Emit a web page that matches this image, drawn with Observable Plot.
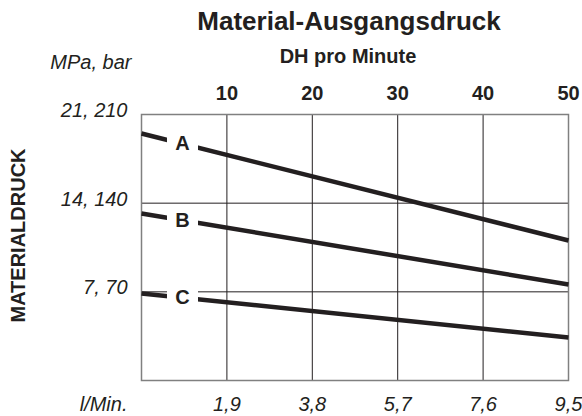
<!DOCTYPE html>
<html>
<head>
<meta charset="utf-8">
<script src="https://cdn.jsdelivr.net/npm/d3@7"></script>
<script src="https://cdn.jsdelivr.net/npm/@observablehq/plot@0.6"></script>
<style>
  html, body { margin: 0; padding: 0; background: white; }
</style>
</head>
<body>
<div id="chart"></div>
<script>
// ---- data ----
const seriesNames = ["A", "B", "C"];
const flowDH = [0, 50];                 // DH pro Minute (x)
const pressureA = [19.5, 11.05];        // MPa
const pressureB = [13.18, 7.58];
const pressureC = [6.87, 3.39];
const labelFlow = 4.8;                  // x position of the series label

const topTicks = [10, 20, 30, 40, 50];
const bottomTickLabels = ["1,9", "3,8", "5,7", "7,6", "9,5"];
const yTicks = [7, 14, 21];
const yTickLabels = ["7, 70", "14, 140", "21, 210"];
const gridX = [10, 20, 30, 40];
const gridY = [7, 14];

const title = "Material-Ausgangsdruck";
const subtitle = "DH pro Minute";
const yUnit = "MPa, bar";
const xUnit = "l/Min.";
const yTitle = "MATERIALDRUCK";

// ---- build tables ----
const pressures = [pressureA, pressureB, pressureC];
const lineData = seriesNames.flatMap((s, i) =>
  flowDH.map((x, j) => ({ series: s, x, y: pressures[i][j] })));
const labelData = seriesNames.map((s, i) => {
  const p = pressures[i];
  const t = (labelFlow - flowDH[0]) / (flowDH[1] - flowDH[0]);
  return { series: s, x: labelFlow, y: p[0] + t * (p[1] - p[0]) };
});
const bottomData = topTicks.map((x, i) => ({ x, label: bottomTickLabels[i] }));
const leftData = yTicks.map((y, i) => ({ y, label: yTickLabels[i] }));

const ink = "#231f20";
const font = "'Liberation Sans', Arial, Helvetica, sans-serif";

const chart = Plot.plot({
  width: 582,
  height: 416,
  marginLeft: 141,
  marginRight: 14,
  marginTop: 114,
  marginBottom: 36,
  x: { domain: [0, 50], axis: null },
  y: { domain: [0, 21], axis: null },
  style: { fontFamily: font, background: "white", color: ink },
  marks: [
    Plot.ruleX(gridX, { stroke: ink, strokeWidth: 1 }),
    Plot.ruleY(gridY, { stroke: ink, strokeWidth: 1 }),
    Plot.frame({ stroke: "#808080", strokeWidth: 1.5 }),
    Plot.line(lineData, { x: "x", y: "y", z: "series", stroke: ink, strokeWidth: 4.5, strokeLinecap: "butt" }),
    Plot.dot(labelData, { x: "x", y: "y", symbol: "square", r: 17.5, fill: "white", stroke: null }),
    Plot.text(labelData, { x: "x", y: "y", text: "series", fill: ink, fontSize: 20, fontWeight: "bold" }),
    // top axis (DH)
    Plot.text(topTicks, { x: d => d, frameAnchor: "top", dy: -29, text: d => String(d), fill: ink, fontSize: 20, fontWeight: "bold" }),
    // bottom axis (l/Min.)
    Plot.text(bottomData, { x: "x", frameAnchor: "bottom", dy: 30, text: "label", fill: ink, fontSize: 20, fontStyle: "italic" }),
    // left axis
    Plot.text(leftData, { y: "y", frameAnchor: "left", dx: -14, dy: -4, textAnchor: "end", text: "label", fill: ink, fontSize: 20, fontStyle: "italic" }),
    // titles / units
    Plot.text([title], { frameAnchor: "top", dx: -6, dy: -103, text: d => d, fill: ink, fontSize: 26, fontWeight: "bold" }),
    Plot.text([subtitle], { frameAnchor: "top", dx: -7, dy: -66, text: d => d, fill: ink, fontSize: 20, fontWeight: "bold" }),
    Plot.text([yUnit], { frameAnchor: "top-left", dx: -10, dy: -60, textAnchor: "end", text: d => d, fill: ink, fontSize: 20, fontStyle: "italic" }),
    Plot.text([xUnit], { frameAnchor: "bottom-left", dx: -14, dy: 30, textAnchor: "end", text: d => d, fill: ink, fontSize: 20, fontStyle: "italic" }),
    Plot.text([yTitle], { frameAnchor: "left", dx: -123, dy: -12, rotate: -90, textAnchor: "middle", text: d => d, fill: ink, fontSize: 20, fontWeight: "bold" })
  ]
});
document.getElementById("chart").appendChild(chart);
</script>
</body>
</html>
